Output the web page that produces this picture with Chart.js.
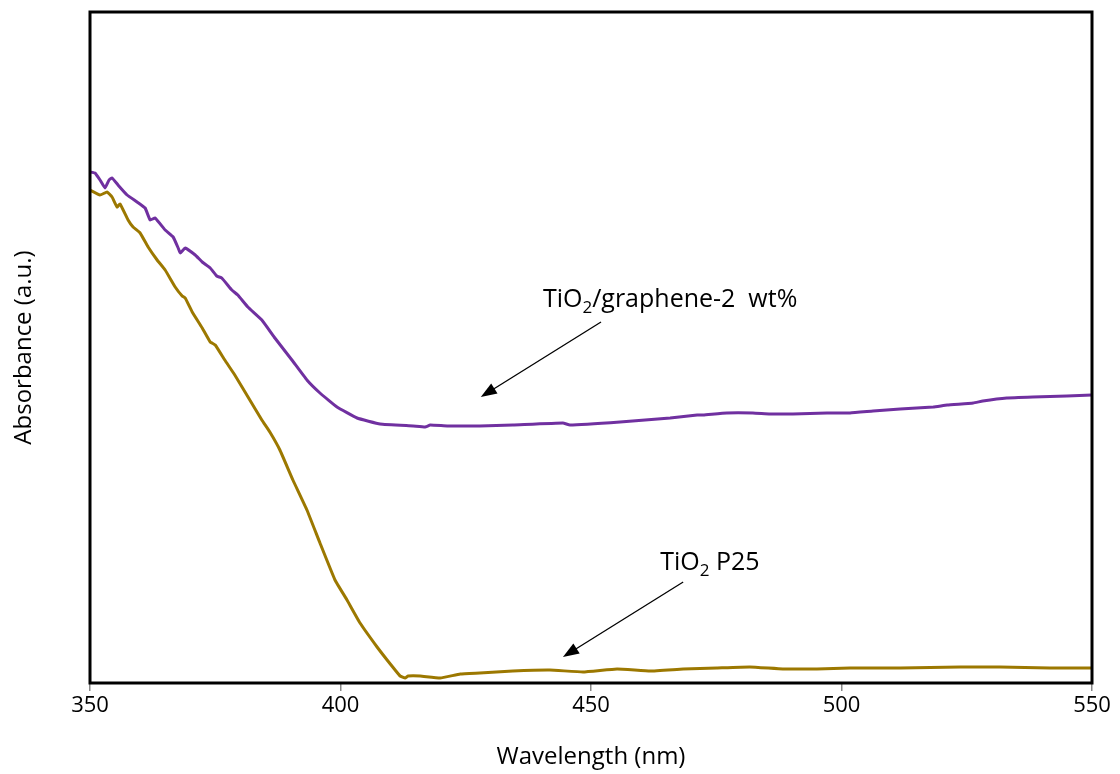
<!DOCTYPE html>
<html lang="en">
<head>
<meta charset="UTF-8">
<title>Absorbance spectra</title>
<script src="https://cdn.jsdelivr.net/npm/chart.js"></script>
<style>
  html, body { margin: 0; padding: 0; background: #ffffff; }
  #wrap { width: 1120px; height: 774px; }
</style>
</head>
<body>
<div id="wrap"><canvas id="absChart" width="1120" height="774"></canvas></div>
<script>
// TiO2/graphene-2 wt% (purple)
const grapheneNm = [350.0, 351.0, 352.0, 353.0, 353.8, 354.4, 355.6, 357.4, 359.4, 361.0, 362.0, 363.0, 365.0, 366.6, 367.6, 368.0, 369.0, 371.0, 372.4, 374.0, 375.3, 376.3, 378.3, 379.5, 381.5, 384.3, 386.9, 390.3, 393.3, 395.9, 399.3, 403.3, 407.9, 414.5, 416.9, 417.9, 421.3, 427.8, 434.4, 444.4, 445.8, 455.8, 465.8, 471.2, 472.4, 477.1, 482.3, 485.7, 490.3, 497.1, 501.7, 506.3, 511.7, 518.3, 521.1, 526.3, 528.2, 533.0, 538.2, 545.0, 550.0];
const grapheneAbs = [5.11, 5.10, 5.03, 4.95, 5.03, 5.05, 4.98, 4.88, 4.81, 4.75, 4.63, 4.65, 4.53, 4.46, 4.35, 4.30, 4.35, 4.28, 4.21, 4.15, 4.07, 4.05, 3.93, 3.88, 3.76, 3.63, 3.45, 3.23, 3.03, 2.90, 2.76, 2.65, 2.59, 2.57, 2.56, 2.58, 2.57, 2.57, 2.58, 2.60, 2.58, 2.61, 2.65, 2.68, 2.68, 2.70, 2.70, 2.69, 2.69, 2.70, 2.70, 2.72, 2.74, 2.76, 2.78, 2.80, 2.82, 2.85, 2.86, 2.87, 2.88];

// TiO2 P25 (gold)
const p25Nm = [350.0, 352.0, 353.4, 354.4, 355.4, 356.0, 357.6, 358.6, 360.0, 361.6, 363.4, 365.0, 367.0, 368.4, 369.0, 370.4, 372.4, 374.0, 375.0, 376.9, 378.9, 381.9, 384.3, 385.9, 387.9, 390.5, 393.3, 395.9, 398.9, 401.3, 403.9, 407.3, 409.3, 410.9, 411.9, 412.9, 413.5, 415.9, 419.9, 423.9, 427.8, 434.4, 441.8, 448.4, 455.2, 461.8, 468.4, 475.1, 481.7, 488.3, 495.1, 501.7, 511.7, 523.7, 531.6, 541.6, 550.0];
const p25Abs = [4.93, 4.88, 4.91, 4.86, 4.76, 4.79, 4.63, 4.56, 4.50, 4.36, 4.23, 4.13, 3.96, 3.87, 3.85, 3.71, 3.55, 3.41, 3.38, 3.23, 3.08, 2.83, 2.63, 2.51, 2.33, 2.03, 1.73, 1.40, 1.03, 0.83, 0.60, 0.36, 0.23, 0.13, 0.07, 0.05, 0.07, 0.07, 0.05, 0.09, 0.10, 0.12, 0.13, 0.11, 0.14, 0.12, 0.14, 0.15, 0.16, 0.14, 0.14, 0.15, 0.15, 0.16, 0.16, 0.15, 0.15];

const xTicks = [350, 400, 450, 500, 550];

// callouts: label position and arrow, in data units
const callouts = [
    { main: 'TiO', sub: '2', rest: '/graphene-2  wt%', at: [440.4, 3.83], from: [452.0, 3.61], to: [428.0, 2.86] },
    { main: 'TiO', sub: '2', rest: ' P25', at: [463.8, 1.20], from: [468.4, 1.01], to: [444.4, 0.26] }
];

const FONT = '"Open Sans", "Noto Sans", sans-serif';

function toPoints(xs, ys) {
    return xs.map((x, i) => ({ x: x, y: ys[i] }));
}

// frame + callouts
const framePlugin = {
    id: 'frame',
    afterDraw(chart) {
        const ctx = chart.ctx;
        const a = chart.chartArea;
        const sx = chart.scales.x, sy = chart.scales.y;
        ctx.save();
        ctx.strokeStyle = '#000';
        ctx.lineWidth = 3;
        ctx.strokeRect(a.left, a.top, a.right - a.left, a.bottom - a.top);

        callouts.forEach(c => {
            const tx = sx.getPixelForValue(c.at[0]);
            const ty = sy.getPixelForValue(c.at[1]);
            ctx.fillStyle = '#000';
            ctx.textBaseline = 'middle';
            ctx.textAlign = 'left';
            ctx.font = '25px ' + FONT;
            let w = ctx.measureText(c.main).width;
            ctx.fillText(c.main, tx, ty);
            ctx.font = '17px ' + FONT;
            ctx.fillText(c.sub, tx + w, ty + 8);
            w += ctx.measureText(c.sub).width;
            ctx.font = '25px ' + FONT;
            ctx.fillText(c.rest, tx + w, ty);

            const x1 = sx.getPixelForValue(c.from[0]), y1 = sy.getPixelForValue(c.from[1]);
            const x2 = sx.getPixelForValue(c.to[0]), y2 = sy.getPixelForValue(c.to[1]);
            const ang = Math.atan2(y2 - y1, x2 - x1);
            const head = 16, half = 6;
            ctx.strokeStyle = '#000';
            ctx.lineWidth = 1.3;
            ctx.beginPath();
            ctx.moveTo(x1, y1);
            ctx.lineTo(x2 - Math.cos(ang) * head * 0.8, y2 - Math.sin(ang) * head * 0.8);
            ctx.stroke();
            ctx.beginPath();
            ctx.moveTo(x2, y2);
            ctx.lineTo(x2 - Math.cos(ang) * head - Math.sin(ang) * half, y2 - Math.sin(ang) * head + Math.cos(ang) * half);
            ctx.lineTo(x2 - Math.cos(ang) * head + Math.sin(ang) * half, y2 - Math.sin(ang) * head - Math.cos(ang) * half);
            ctx.closePath();
            ctx.fill();
        });
        ctx.restore();
    }
};

new Chart(document.getElementById('absChart'), {
    type: 'scatter',
    data: {
        datasets: [
            { label: 'TiO2/graphene-2 wt%', data: toPoints(grapheneNm, grapheneAbs), showLine: true, borderColor: '#7030A0', borderWidth: 3, pointRadius: 0, tension: 0.1 },
            { label: 'TiO2 P25', data: toPoints(p25Nm, p25Abs), showLine: true, borderColor: '#9C7800', borderWidth: 3, pointRadius: 0, tension: 0.1 }
        ]
    },
    options: {
        responsive: false,
        animation: false,
        layout: { padding: { top: 12, right: 28, left: 0, bottom: 0 } },
        plugins: { legend: { display: false }, tooltip: { enabled: false } },
        scales: {
            x: {
                type: 'linear',
                min: 350, max: 550,
                afterBuildTicks: s => { s.ticks = xTicks.map(v => ({ value: v })); },
                afterFit: s => { s.height = 91; },
                border: { display: false },
                grid: { display: true, drawOnChartArea: false, drawTicks: true, tickLength: 8, color: '#888', lineWidth: 1.5 },
                ticks: { color: '#000', font: { family: FONT, size: 22 }, padding: 2 },
                title: { display: true, text: 'Wavelength (nm)', color: '#000', font: { family: FONT, size: 24 }, padding: { top: 0, bottom: 2 } }
            },
            y: {
                min: 0, max: 6.71,
                afterFit: s => { s.width = 90; },
                border: { display: false },
                grid: { display: false },
                ticks: { display: false },
                title: { display: true, text: 'Absorbance (a.u.)', color: '#000', font: { family: FONT, size: 24 }, padding: { top: 10, bottom: 0 } }
            }
        }
    },
    plugins: [framePlugin]
});
</script>
</body>
</html>
